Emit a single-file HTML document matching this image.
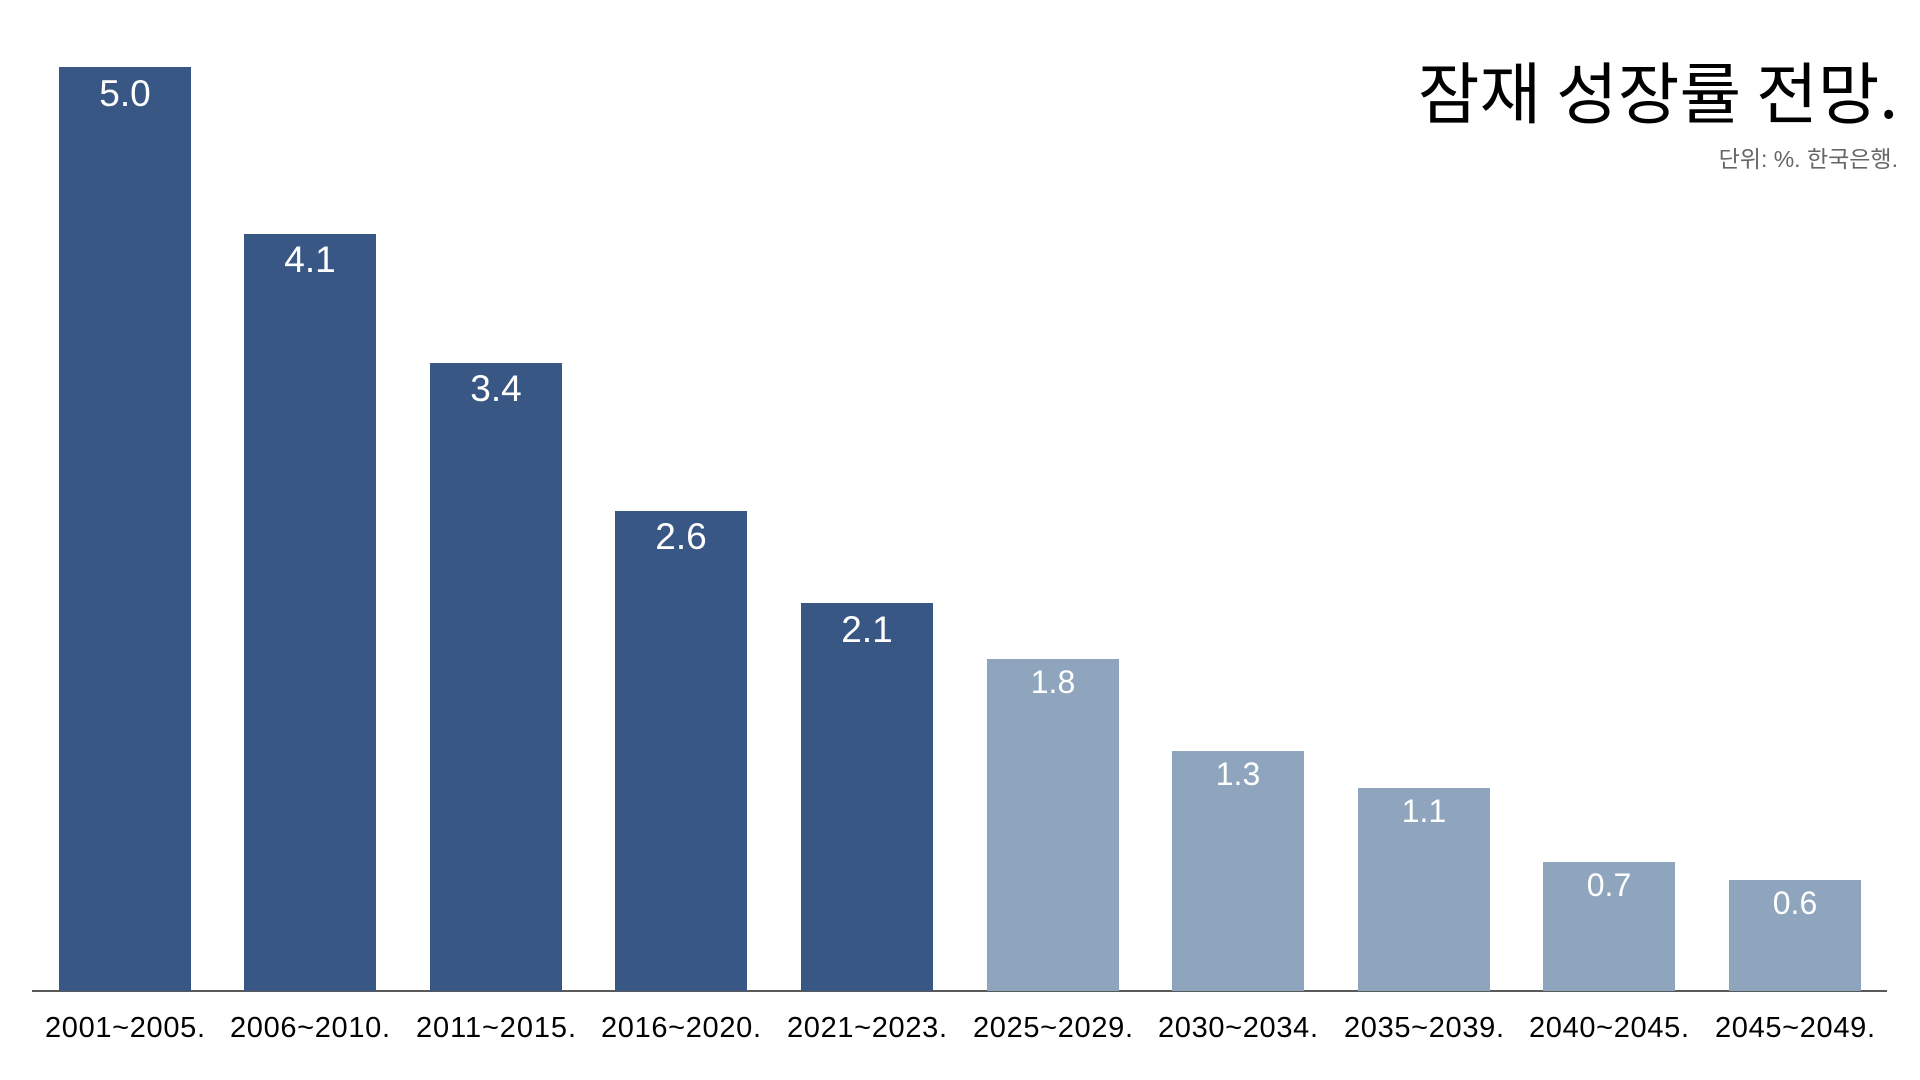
<!DOCTYPE html>
<html><head><meta charset="utf-8"><style>html,body{margin:0;padding:0;background:#fff;}svg{display:block}</style></head>
<body>
<svg width="1920" height="1080" xmlns="http://www.w3.org/2000/svg" font-family="'Liberation Sans','Noto Sans CJK KR',sans-serif">
<rect width="1920" height="1080" fill="#fff"/>
<text x="1898" y="118" text-anchor="end" font-size="67" fill="#000" font-family="'Noto Sans CJK KR','NanumGothic',sans-serif">잠재 성장률 전망.</text>
<text x="1898" y="167" text-anchor="end" font-size="23" fill="#666" font-family="'Liberation Sans','Noto Sans CJK KR',sans-serif">단위: %. 한국은행.</text>
<line x1="32" y1="991" x2="1887" y2="991" stroke="#222" stroke-width="1.5"/>
<g font-size="29" fill="#000" text-anchor="middle">
<text x="125" y="1037" textLength="160">2001~2005.</text>
<text x="310" y="1037" textLength="160">2006~2010.</text>
<text x="496" y="1037" textLength="160">2011~2015.</text>
<text x="681" y="1037" textLength="160">2016~2020.</text>
<text x="867" y="1037" textLength="160">2021~2023.</text>
<text x="1053" y="1037" textLength="160">2025~2029.</text>
<text x="1238" y="1037" textLength="160">2030~2034.</text>
<text x="1424" y="1037" textLength="160">2035~2039.</text>
<text x="1609" y="1037" textLength="160">2040~2045.</text>
<text x="1795" y="1037" textLength="160">2045~2049.</text>
</g>
<g text-anchor="middle" fill="#fff">
<rect x="59" y="67" width="132" height="924" fill="#385785"/><text x="125" y="106" font-size="37">5.0</text>
<rect x="244" y="234" width="132" height="757" fill="#385785"/><text x="310" y="272" font-size="37">4.1</text>
<rect x="430" y="363" width="132" height="628" fill="#385785"/><text x="496" y="401" font-size="37">3.4</text>
<rect x="615" y="511" width="132" height="480" fill="#385785"/><text x="681" y="549" font-size="37">2.6</text>
<rect x="801" y="603" width="132" height="388" fill="#385785"/><text x="867" y="642" font-size="37">2.1</text>
<rect x="987" y="659" width="132" height="332" fill="#8fa5bd"/><text x="1053" y="693" font-size="32">1.8</text>
<rect x="1172" y="751" width="132" height="240" fill="#8fa5bd"/><text x="1238" y="785" font-size="32">1.3</text>
<rect x="1358" y="788" width="132" height="203" fill="#8fa5bd"/><text x="1424" y="822" font-size="32">1.1</text>
<rect x="1543" y="862" width="132" height="129" fill="#8fa5bd"/><text x="1609" y="896" font-size="32">0.7</text>
<rect x="1729" y="880" width="132" height="111" fill="#8fa5bd"/><text x="1795" y="914" font-size="32">0.6</text>
</g>
</svg>
</body></html>
